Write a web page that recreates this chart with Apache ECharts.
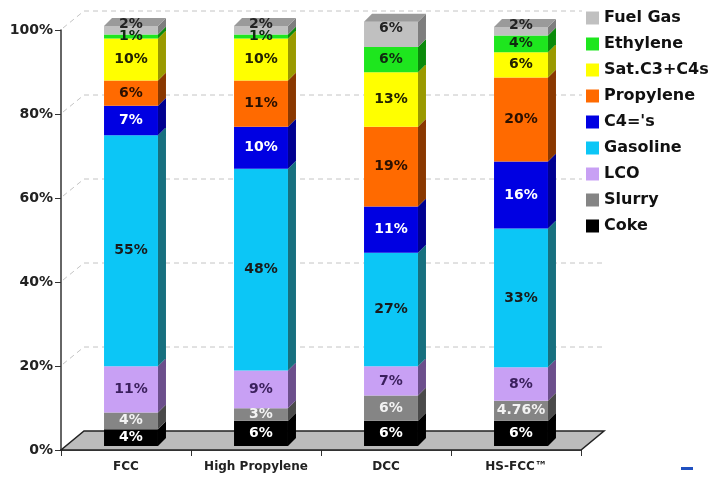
<!DOCTYPE html>
<html>
<head>
<meta charset="utf-8">
<script src="https://cdn.jsdelivr.net/npm/echarts@6/dist/echarts.min.js"></script>
<style>
  html, body { margin: 0; padding: 0; background: #fff; }
  #chart { width: 710px; height: 478px; }
</style>
</head>
<body>
<div id="chart"></div>
<script>
// categories and tick values
const processes = ['FCC', 'High Propylene', 'DCC', 'HS-FCC™'];
const yTicks = [0, 20, 40, 60, 80, 100];

// product yields (%), listed bottom of stack to top
const coke      = [4, 6, 6, 6];
const slurry    = [4, 3, 6, 4.76];
const lco       = [11, 9, 7, 8];
const gasoline  = [55, 48, 27, 33];
const c4s       = [7, 10, 11, 16];
const propylene = [6, 11, 19, 20];
const satC3C4s  = [10, 10, 13, 6];
const ethylene  = [1, 1, 6, 4];
const fuelGas   = [2, 2, 6, 2];

const products = ['Coke', 'Slurry', 'LCO', 'Gasoline', "C4='s", 'Propylene', 'Sat.C3+C4s', 'Ethylene', 'Fuel Gas'];
const yields = [coke, slurry, lco, gasoline, c4s, propylene, satC3C4s, ethylene, fuelGas];

// front colour, side colour, label colour
const looks = [
  ['#000000', '#000000', '#ffffff'],
  ['#858585', '#4a4a4a', '#f2f2f2'],
  ['#c8a0f4', '#6c4f8c', '#3a1f5c'],
  ['#0cc6f6', '#17707f', '#1a1a1a'],
  ['#0000e2', '#000090', '#ffffff'],
  ['#ff6a00', '#8a3800', '#2a1000'],
  ['#ffff00', '#9a9a00', '#222200'],
  ['#1ee61e', '#0b8a0b', '#102a10'],
  ['#c0c0c0', '#7e7e7e', '#222222']
];

const FONT = '"DejaVu Sans", Verdana, sans-serif';
// bar offset from the axis plane, bar depth, wall depth
const FX = 5, FY = -4;
const BX = 8, BY = -8;
const WX = 23, WY = -19;

const chart = echarts.init(document.getElementById('chart'));

const wallSeries = {
  type: 'custom',
  name: 'wall',
  z: 1,
  silent: true,
  data: yTicks.map(v => [0, v]),
  renderItem: function (params, api) {
    const v = api.value(1);
    const p = api.coord([0, v]);
    const x0 = params.coordSys.x, x1 = x0 + params.coordSys.width;
    const y = p[1];
    if (v === 0) {
      return {
        type: 'polygon',
        shape: { points: [[x0, y], [x1, y], [x1 + WX, y + WY], [x0 + WX, y + WY]] },
        style: { fill: '#bcbcbc', stroke: '#222', lineWidth: 1.5 }
      };
    }
    const dash = { stroke: '#c4c4c4', lineWidth: 1, lineDash: [5, 4], fill: null };
    return {
      type: 'group',
      children: [
        { type: 'line', shape: { x1: x0 + WX, y1: y + WY, x2: x1 + WX, y2: y + WY }, style: dash },
        { type: 'line', shape: { x1: x0 + 2, y1: y - 2, x2: x0 + WX, y2: y + WY }, style: dash }
      ]
    };
  }
};

const base = processes.map(() => 0);
const barSeries = products.map((name, s) => {
  const vals = yields[s];
  const data = vals.map((v, i) => {
    const item = [i, base[i], base[i] + v, v];
    base[i] += v;
    return item;
  });
  const look = looks[s];
  const isTop = s === products.length - 1;
  return {
    type: 'custom',
    name: name,
    z: 3,
    itemStyle: { color: look[0] },
    data: data,
    renderItem: function (params, api) {
      const cat = api.value(0), lo = api.value(1), hi = api.value(2), val = api.value(3);
      const p0 = api.coord([cat, lo]);
      const p1 = api.coord([cat, hi]);
      const w = api.size([1, 0])[0] * 0.415;
      const xl = p0[0] - w / 2 + FX, xr = xl + w;
      const yb = p0[1] + FY, yt = p1[1] + FY;
      const children = [
        { type: 'polygon', shape: { points: [[xr, yt], [xr + BX, yt + BY], [xr + BX, yb + BY], [xr, yb]] },
          style: { fill: look[1] } },
        { type: 'rect', shape: { x: xl, y: yt, width: w, height: yb - yt }, style: { fill: look[0] } }
      ];
      if (isTop) {
        children.push({ type: 'polygon',
          shape: { points: [[xl, yt], [xl + BX, yt + BY], [xr + BX, yt + BY], [xr, yt]] },
          style: { fill: '#9a9a9a' } });
      }
      children.push({
        type: 'text', z2: 10,
        style: {
          text: val + '%', x: (xl + xr) / 2, y: (yt + yb) / 2 + (isTop ? -6 : 0),
          fill: look[2], font: 'bold 14px ' + FONT, align: 'center', verticalAlign: 'middle'
        }
      });
      return { type: 'group', children: children };
    }
  };
});

chart.setOption({
  animation: false,
  backgroundColor: '#fff',
  grid: { left: 61, right: 129, top: 30, bottom: 28 },
  legend: {
    data: products.slice().reverse(),
    orient: 'vertical',
    left: 582, top: 6,
    padding: 4,
    backgroundColor: '#fff',
    icon: 'rect',
    itemWidth: 13, itemHeight: 13, itemGap: 10,
    textStyle: { fontFamily: FONT, fontWeight: 'bold', fontSize: 16, color: '#111' }
  },
  xAxis: {
    type: 'category',
    data: processes,
    axisLine: { lineStyle: { color: '#333', width: 1.5 } },
    axisTick: { show: true, length: 6, interval: 0, lineStyle: { color: '#333' } },
    axisLabel: { interval: 0, fontFamily: FONT, fontWeight: 'bold', fontSize: 12, color: '#222', margin: 11 }
  },
  yAxis: {
    type: 'value', min: 0, max: 100, interval: 20,
    axisLine: { show: true, lineStyle: { color: '#333', width: 1.5 } },
    axisTick: { show: true, length: 6, lineStyle: { color: '#333' } },
    splitLine: { show: false },
    axisLabel: { formatter: '{value}%', fontFamily: FONT, fontWeight: 'bold', fontSize: 14, color: '#222', margin: 8 }
  },
  graphic: [
    { type: 'rect', left: 681, top: 467, shape: { width: 12, height: 3 }, style: { fill: '#2050c0' } }
  ],
  series: [wallSeries].concat(barSeries)
});
</script>
</body>
</html>
